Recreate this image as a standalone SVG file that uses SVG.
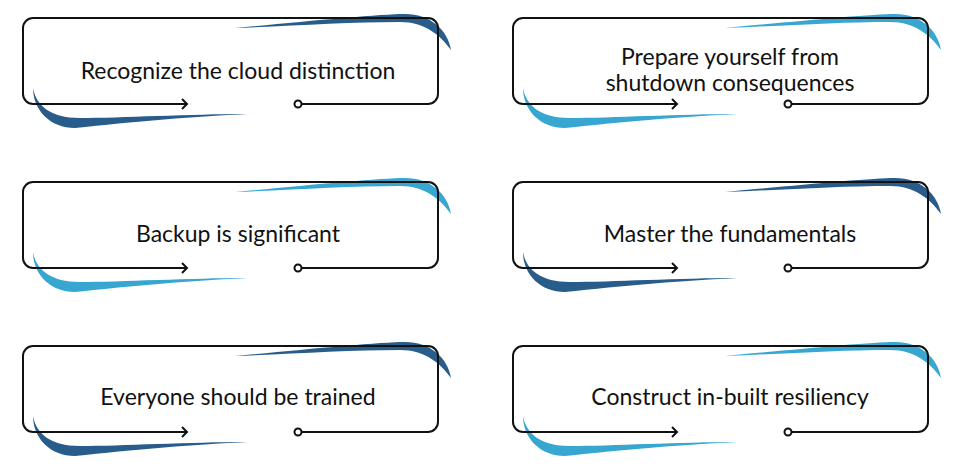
<svg xmlns="http://www.w3.org/2000/svg" width="968" height="470" viewBox="0 0 968 470">
<style>
.o{fill:none;stroke:#111;stroke-width:2}
.d{fill:#285d8b}.l{fill:#37a6d1}
text{font-family:Lato,"Open Sans",sans-serif;font-size:23px;fill:#111;text-anchor:middle}
</style>
<defs>
<path id="ts" d="M212,10 C277,4 357,-4 382,-4 C407,-4 425,12 428,32 C417,17 402,4 377,4 C327,4 267,8 212,10Z"/>
<path id="bs" d="M10,70 C10,92 27,110 52,110 C107,104 177,98 225,96 C167,96 97,100 57,100 C27,100 13,87 10,70Z"/>
<g id="frame">
<path class="o" d="M164,86 H10 A10,10 0 0 1 0,76 V10 A10,10 0 0 1 10,0 H405 A10,10 0 0 1 415,10 V76 A10,10 0 0 1 405,86 H279"/>
<polyline class="o" points="159,81 164,86 159,91"/>
<circle class="o" cx="275" cy="86" r="3.5" fill="#fff"/>
</g>
</defs>
<g id="n1" transform="translate(23,18)"><g class="d"><use href="#ts"/><use href="#bs"/></g><use href="#frame"/><text x="215" y="61">Recognize the cloud distinction</text></g>
<g id="n2" transform="translate(513,18)"><g class="l"><use href="#ts"/><use href="#bs"/></g><use href="#frame"/><text x="217" y="47">Prepare yourself from</text><text x="217" y="73">shutdown consequences</text></g>
<g id="n3" transform="translate(23,182)"><g class="l"><use href="#ts"/><use href="#bs"/></g><use href="#frame"/><text x="215" y="60">Backup is significant</text></g>
<g id="n4" transform="translate(513,182)"><g class="d"><use href="#ts"/><use href="#bs"/></g><use href="#frame"/><text x="217" y="60">Master the fundamentals</text></g>
<g id="n5" transform="translate(23,346)"><g class="d"><use href="#ts"/><use href="#bs"/></g><use href="#frame"/><text x="215" y="59">Everyone should be trained</text></g>
<g id="n6" transform="translate(513,346)"><g class="l"><use href="#ts"/><use href="#bs"/></g><use href="#frame"/><text x="217" y="59">Construct in-built resiliency</text></g>
<g id="connectors"></g>
</svg>
